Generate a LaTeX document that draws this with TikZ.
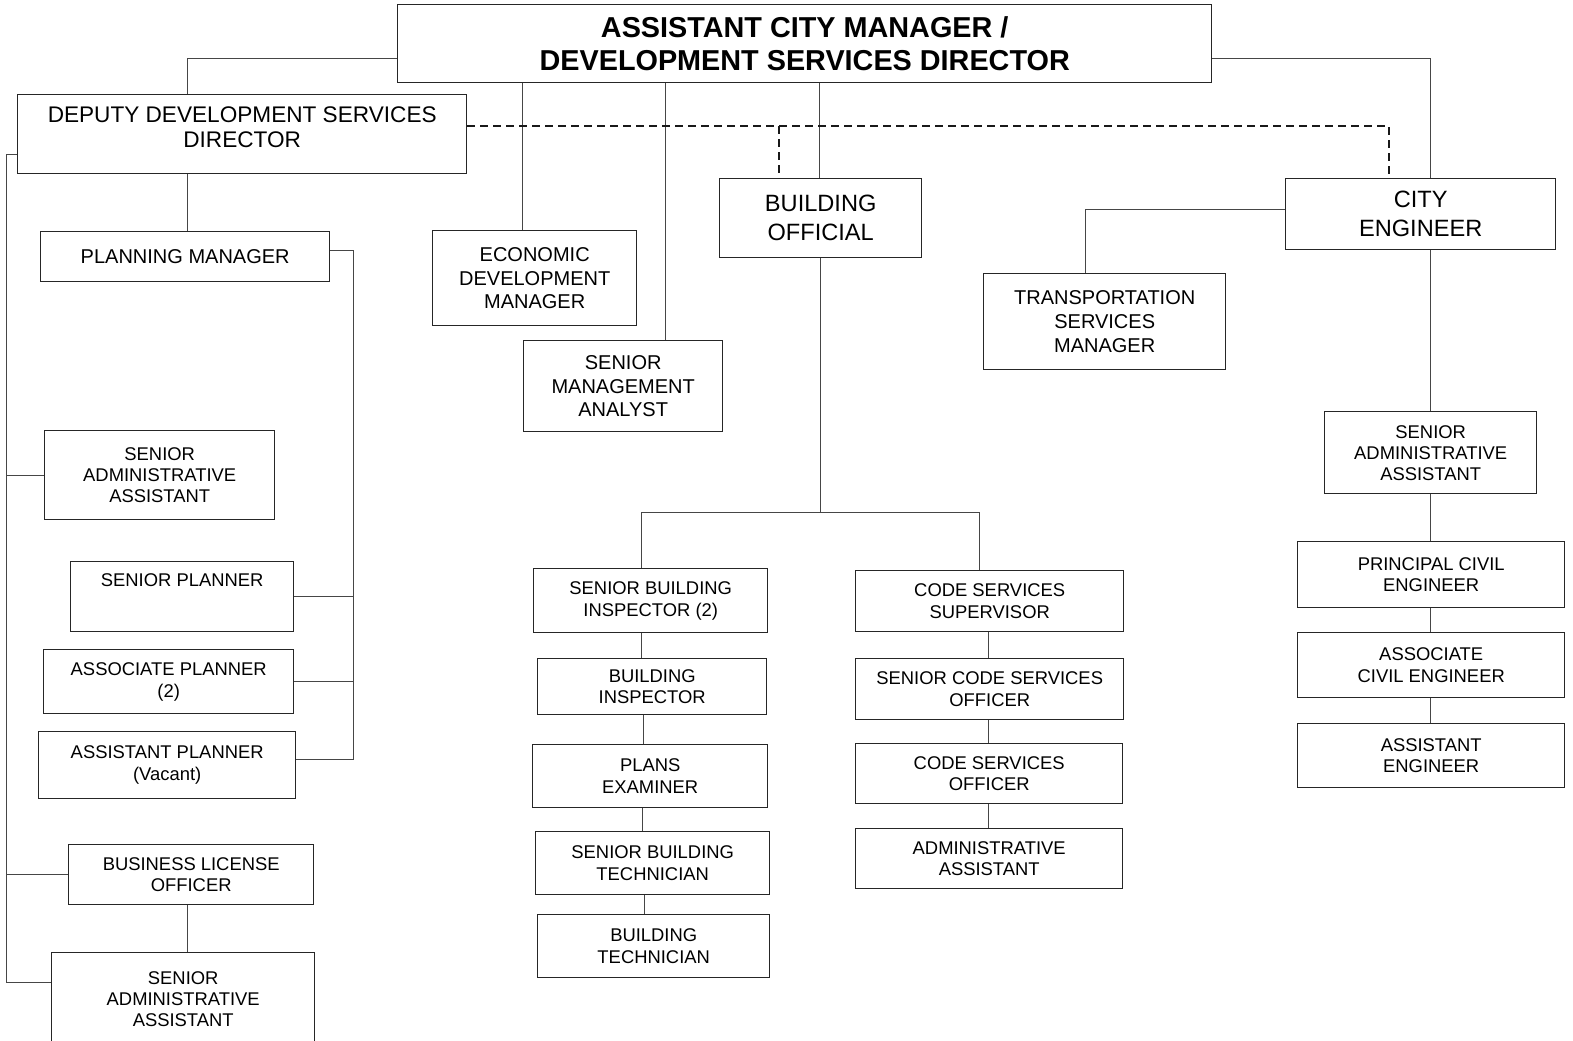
\documentclass[tikz,border=0pt]{standalone}
\usepackage{fontspec}
\setmainfont{Liberation Sans}
\definecolor{wiregray}{RGB}{70,70,70}

\begin{document}
\begin{tikzpicture}[x=0.5pt, y=-0.5pt,
    box/.style={draw=black!85, line width=0.7pt, anchor=north west, align=center, inner sep=0pt, font=\fontsize{9.2}{10.8}\selectfont},
    medbox/.style={box, font=\fontsize{10}{11.8}\selectfont},
    bigbox/.style={box, font=\fontsize{11.8}{14.5}\selectfont},
    link/.style={draw=wiregray, line width=0.5pt},
    dotline/.style={draw=black!90, line width=0.6pt, dash pattern=on 4pt off 2.5pt}]
    \useasboundingbox (0,0) rectangle (1573,1040);

    % director and the heads under him
    \node[box, minimum width=407pt, minimum height=39pt, font=\bfseries\fontsize{14.4}{16.5}\selectfont] (top) at (397,4) {ASSISTANT CITY MANAGER /\\DEVELOPMENT SERVICES DIRECTOR};
    \node[box, minimum width=224.5pt, minimum height=39.5pt, font=\fontsize{11.3}{12.5}\selectfont] (dep) at (17,94) {DEPUTY DEVELOPMENT SERVICES\\DIRECTOR\\[-5pt]\mbox{}};
    \node[medbox, minimum width=102pt, minimum height=47.5pt] (econ) at (432,230) {ECONOMIC\\DEVELOPMENT\\MANAGER};
    \node[medbox, minimum width=99.5pt, minimum height=45.5pt] (sma) at (523,340) {SENIOR\\MANAGEMENT\\ANALYST};
    \node[bigbox, minimum width=101pt, minimum height=39.5pt] (bo) at (719,178) {BUILDING\\OFFICIAL};
    \node[bigbox, minimum width=135pt, minimum height=35.5pt] (ce) at (1285,178) {CITY\\ENGINEER};
    \node[medbox, minimum width=121pt, minimum height=48pt] (tsm) at (983,273) {TRANSPORTATION\\SERVICES\\MANAGER};

    % planning side
    \node[medbox, minimum width=144.5pt, minimum height=25pt] (plan) at (40,231) {PLANNING MANAGER};
    \node[box, minimum width=115pt, minimum height=44.5pt, font=\fontsize{9.2}{10.5}\selectfont] (saa1) at (44,430) {SENIOR\\ADMINISTRATIVE\\ASSISTANT};
    \node[box, minimum width=111.5pt, minimum height=35pt, text height=7pt, text depth=17pt] (sp) at (70,561) {SENIOR PLANNER};
    \node[box, minimum width=125pt, minimum height=32pt] (ap) at (43,649) {ASSOCIATE PLANNER\\(2)};
    \node[box, minimum width=128.5pt, minimum height=33.5pt] (asp) at (38,731) {ASSISTANT PLANNER\\(Vacant)};
    \node[box, minimum width=122.5pt, minimum height=30pt] (blo) at (68,844) {BUSINESS LICENSE\\OFFICER};
    \node[box, minimum width=131.5pt, minimum height=46pt, font=\fontsize{9.2}{10.5}\selectfont] (saa2) at (51,952) {SENIOR\\ADMINISTRATIVE\\ASSISTANT};

    % building side
    \node[box, minimum width=117pt, minimum height=32pt] (sbi) at (533,568) {SENIOR BUILDING\\INSPECTOR (2)};
    \node[box, minimum width=114.5pt, minimum height=28pt] (bi) at (537,658) {BUILDING\\INSPECTOR};
    \node[box, minimum width=117.5pt, minimum height=31.5pt] (pe) at (532,744) {PLANS\\EXAMINER};
    \node[box, minimum width=117pt, minimum height=31.5pt] (sbt) at (535,831) {SENIOR BUILDING\\TECHNICIAN};
    \node[box, minimum width=116pt, minimum height=31.5pt] (bt) at (537,914) {BUILDING\\TECHNICIAN};
    \node[box, minimum width=134pt, minimum height=30.5pt] (css) at (855,570) {CODE SERVICES\\SUPERVISOR};
    \node[box, minimum width=134pt, minimum height=30.5pt] (scso) at (855,658) {SENIOR CODE SERVICES\\OFFICER};
    \node[box, minimum width=133.5pt, minimum height=30pt] (cso) at (855,743) {CODE SERVICES\\OFFICER};
    \node[box, minimum width=133.5pt, minimum height=30pt] (aa) at (855,828) {ADMINISTRATIVE\\ASSISTANT};

    % engineering side
    \node[box, minimum width=106pt, minimum height=41pt, font=\fontsize{9.2}{10.5}\selectfont] (saa3) at (1324,411) {SENIOR\\ADMINISTRATIVE\\ASSISTANT};
    \node[box, minimum width=133.5pt, minimum height=33pt] (pce) at (1297,541) {PRINCIPAL CIVIL\\ENGINEER};
    \node[box, minimum width=133.5pt, minimum height=32.5pt] (ace) at (1297,632) {ASSOCIATE\\CIVIL ENGINEER};
    \node[box, minimum width=133.5pt, minimum height=32pt] (ae) at (1297,723) {ASSISTANT\\ENGINEER};

    % bus points
    \coordinate (pbus) at (353,759);
    \coordinate (lbus) at (6,982);
    \coordinate (bbus) at (818,512);
    \coordinate (dj) at (779,126);

    % lines from the director
    \draw[link] (top.west |- 0,58) -| (dep.north -| 187,0);
    \draw[link] (top.east |- 0,58) -| (ce.north -| 1430,0);
    \draw[link] (top.south -| 522,0) -- (econ.north -| 522,0);
    \draw[link] (top.south -| 665,0) -- (sma.north -| 665,0);
    \draw[link] (top.south -| 819,0) -- (bo.north -| 819,0);
    \draw[dotline] (dep.east |- 0,126) -| (ce.north -| 1389,0);
    \draw[dotline] (dj) -- (bo.north -| dj);

    % planning lines
    \draw[link] (dep.south -| 187,0) -- (plan.north -| 187,0);
    \draw[link] (plan.east |- 0,250) -| (pbus) -- (asp.east |- pbus);
    \draw[link] (sp.east) -- (sp.east -| pbus);
    \draw[link] (ap.east) -- (ap.east -| pbus);
    \draw[link] (dep.west |- 0,154) -| (lbus) -- (saa2.west |- lbus);
    \draw[link] (saa1.west) -- (saa1.west -| lbus);
    \draw[link] (blo.west) -- (blo.west -| lbus);
    \draw[link] (blo.south -| 187,0) -- (saa2.north -| 187,0);

    % building lines
    \draw[link] (bo.south) -- (bo.south |- bbus);
    \draw[link] (sbi.north -| 641,0) |- (bbus) -| (css.north -| 979,0);
    \draw[link] (sbi.south -| 641,0) -- (bi.north -| 641,0);
    \draw[link] (bi.south -| 643,0) -- (pe.north -| 643,0);
    \draw[link] (pe.south -| 642,0) -- (sbt.north -| 642,0);
    \draw[link] (sbt.south -| 644,0) -- (bt.north -| 644,0);
    \draw[link] (css.south -| 988,0) -- (scso.north -| 988,0);
    \draw[link] (scso.south -| 988,0) -- (cso.north -| 988,0);
    \draw[link] (cso.south -| 988,0) -- (aa.north -| 988,0);

    % engineering lines
    \draw[link] (ce.west |- 0,209) -| (tsm.north -| 1085,0);
    \draw[link] (ce.south -| 1430,0) -- (saa3.north -| 1430,0);
    \draw[link] (saa3.south -| 1430,0) -- (pce.north -| 1430,0);
    \draw[link] (pce.south -| 1430,0) -- (ace.north -| 1430,0);
    \draw[link] (ace.south -| 1430,0) -- (ae.north -| 1430,0);
\end{tikzpicture}
\end{document}
